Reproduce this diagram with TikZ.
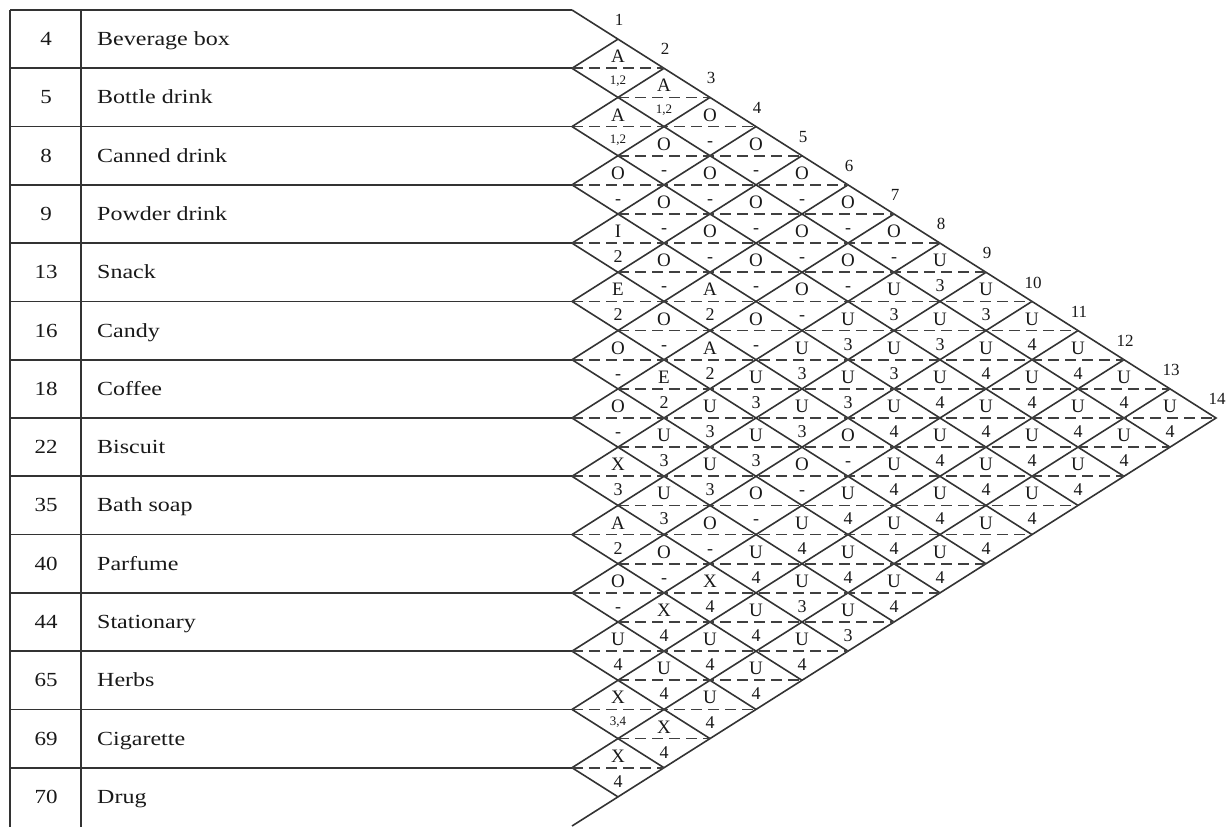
\documentclass[tikz,border=0pt]{standalone}
\usepackage{fontspec}
\setmainfont{Liberation Serif}
\begin{document}
\begin{tikzpicture}[x=1pt,y=-1pt,
  ln/.style={line width=1.6pt, draw=black!80},
  tln/.style={line width=1.7pt, draw=black!80},
  dsh/.style={line width=1.6pt, draw=black!75, dash pattern=on 11pt off 6pt},
  ltr/.style={font=\fontsize{19}{22}\selectfont, inner sep=0pt, anchor=base, text=black!90},
  cod/.style={font=\fontsize{18}{21}\selectfont, inner sep=0pt, anchor=base, text=black!90},
  scod/.style={font=\fontsize{13}{15}\selectfont, inner sep=0pt, anchor=base, text=black!90},
  vlab/.style={font=\fontsize{17}{19}\selectfont, inner sep=0pt, text=black!90},
  num/.style={font=\fontsize{20}{23}\selectfont, inner sep=0pt, anchor=base, text=black!90},
  nam/.style={font=\fontsize{20}{23}\selectfont, inner sep=0pt, anchor=base west, text=black!90}]
\useasboundingbox (0,0) rectangle (1231,827);
% table
\draw[tln] (10,10) -- (10,827);
\draw[tln] (81,10) -- (81,827);
\foreach \k in {0,...,13} \draw[tln] (10,{10+58.2857*\k}) -- (572,{10+58.2857*\k});
% outer triangle
\draw[ln] (572,10) -- (1216,418) -- (572,826);
% grid lines
\foreach \k in {1,...,13} {
  \draw[ln] (572,{10+58.2857*\k}) -- ++({46*(14-\k)},{29.1429*(14-\k)});
  \draw[ln] (572,{10+58.2857*\k}) -- ++({46*\k},{-29.1429*\k});
}
% dashed diagonals
\foreach \k in {1,...,13}
  \draw[dsh] (572,{10+58.2857*\k}) -- ({572+92*min(\k,14-\k)},{10+58.2857*\k});
\foreach \r in {2,...,13}
  \draw[dsh] (618,{10+58.2857*(\r-0.5)}) -- ({572+46*min(2*\r-1,29-2*\r)},{10+58.2857*(\r-0.5)});
% table texts
\foreach \r/\n/\t in {1/4/Beverage box,2/5/Bottle drink,3/8/Canned drink,4/9/Powder drink,5/13/Snack,6/16/Candy,7/18/Coffee,8/22/Biscuit,9/35/Bath soap,10/40/Parfume,11/44/Stationary,12/65/Herbs,13/69/Cigarette,14/70/Drug} {
  \node[num] (N\r) at (46,{10+58.2857*(\r-0.5)+6.5}) {\scalebox{1.15}[1]{\n}};
  \node[nam] (T\r) at (97,{10+58.2857*(\r-0.5)+6.5}) {\scalebox{1.2}[1]{\t}};
}
% vertex labels
\foreach \k in {1,...,14}
  \node[vlab] (V\k) at ({572+46*\k+1},{10+29.1429*\k-19}) {\k};
% relationship letters and codes
\foreach \i/\j/\l/\c in {
  3/4/O/-, 4/5/I/2, 5/6/E/2, 6/7/O/-, 7/8/O/-, 8/9/X/3, 9/10/A/2, 10/11/O/-, 11/12/U/4, 13/14/X/4,
  2/4/O/-, 3/5/O/-, 4/6/O/-, 5/7/O/-, 6/8/E/2, 7/9/U/3, 8/10/U/3, 9/11/O/-, 10/12/X/4, 11/13/U/4, 12/14/X/4,
  1/4/O/-, 2/5/O/-, 3/6/O/-, 4/7/A/2, 5/8/A/2, 6/9/U/3, 7/10/U/3, 8/11/O/-, 9/12/X/4, 10/13/U/4, 11/14/U/4,
  1/5/O/-, 2/6/O/-, 3/7/O/-, 4/8/O/-, 5/9/U/3, 6/10/U/3, 7/11/O/-, 8/12/U/4, 9/13/U/4, 10/14/U/4,
  1/6/O/-, 2/7/O/-, 3/8/O/-, 4/9/U/3, 5/10/U/3, 6/11/O/-, 7/12/U/4, 8/13/U/3, 9/14/U/4,
  1/7/O/-, 2/8/O/-, 3/9/U/3, 4/10/U/3, 5/11/O/-, 6/12/U/4, 7/13/U/4, 8/14/U/3,
  1/8/O/-, 2/9/U/3, 3/10/U/3, 4/11/U/4, 5/12/U/4, 6/13/U/4, 7/14/U/4,
  1/9/U/3, 2/10/U/3, 3/11/U/4, 4/12/U/4, 5/13/U/4, 6/14/U/4,
  1/10/U/3, 2/11/U/4, 3/12/U/4, 4/13/U/4, 5/14/U/4,
  1/11/U/4, 2/12/U/4, 3/13/U/4, 4/14/U/4,
  1/12/U/4, 2/13/U/4, 3/14/U/4,
  1/13/U/4, 2/14/U/4,
  1/14/U/4} {
  \node[ltr] (L\i-\j) at ({572+46*(\j-\i)},{10+29.1429*(\i+\j-1)-5.5}) {\l};
  \node[cod] (C\i-\j) at ({572+46*(\j-\i)},{10+29.1429*(\i+\j-1)+19.5}) {\c};
}
\foreach \i/\j/\l/\c in {1/2/A/{1,2}, 2/3/A/{1,2}, 1/3/A/{1,2}, 12/13/X/{3,4}} {
  \node[ltr] (L\i-\j) at ({572+46*(\j-\i)},{10+29.1429*(\i+\j-1)-5.5}) {\l};
  \node[scod] (C\i-\j) at ({572+46*(\j-\i)},{10+29.1429*(\i+\j-1)+16.5}) {\c};
}
\end{tikzpicture}
\end{document}
